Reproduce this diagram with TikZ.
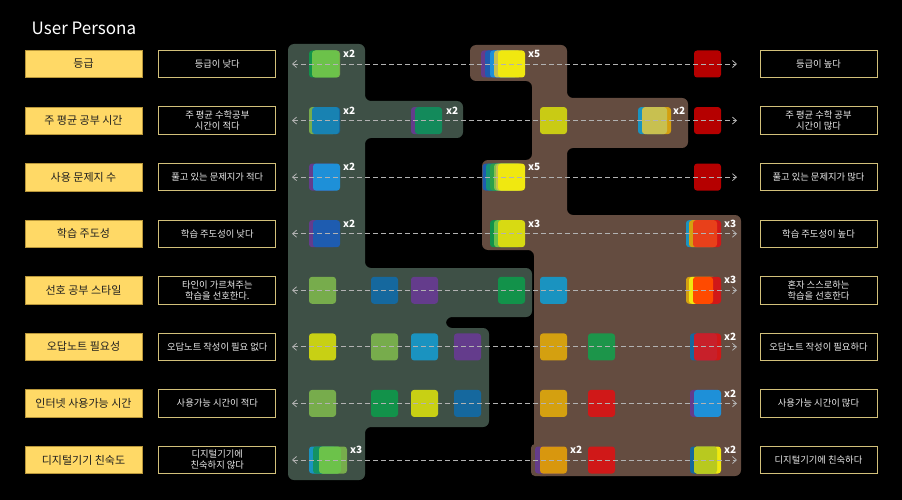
\documentclass[tikz,border=0pt]{standalone}
\usepackage{fontspec}
\setmainfont{Noto Sans CJK KR}
\usetikzlibrary{arrows.meta}
\definecolor{bgG}{HTML}{3E5046}
\definecolor{bgB}{HTML}{644C40}
\definecolor{kyel}{HTML}{FFD966}
\definecolor{kyelb}{HTML}{B8963A}
\definecolor{dbord}{HTML}{D2C07A}
\definecolor{dgreen}{HTML}{12924A}
\definecolor{olive}{HTML}{77AC4C}
\definecolor{lgreen}{HTML}{6CC24A}
\definecolor{sblue}{HTML}{15689E}
\definecolor{purp}{HTML}{643C8C}
\definecolor{teal}{HTML}{1A93C0}
\definecolor{cyanb}{HTML}{1E90D8}
\definecolor{dblue}{HTML}{1E5CB0}
\definecolor{ygreen}{HTML}{C8D014}
\definecolor{ochre}{HTML}{D4A010}
\definecolor{redd}{HTML}{D01818}
\definecolor{dred}{HTML}{B50000}
\definecolor{yell}{HTML}{F0E810}
\definecolor{crim}{HTML}{C8202A}
\definecolor{orng}{HTML}{FF4A00}
\definecolor{orred}{HTML}{E8401A}
\definecolor{khaki}{HTML}{C8C050}
\newcommand\psq[4][27]{\fill[fill=#4,rounded corners=3pt] ({#2},{#3-13.5}) rectangle ({#2+#1},{#3+13.5});}
\begin{document}
\begin{tikzpicture}[x=1pt,y=-1pt,
  ybox/.style={fill=kyel,draw=kyelb,line width=0.6pt,minimum width=117pt,minimum height=27.5pt,inner sep=0pt,text=black!88,font=\fontsize{11}{13}\selectfont},
  dbox/.style={fill=black,draw=dbord,line width=0.9pt,minimum width=117pt,minimum height=27.5pt,inner sep=0pt,text=white!92!black,align=center,font=\fontsize{9.3}{11}\selectfont},
  cnt/.style={anchor=west,text=white,inner sep=0pt,font=\bfseries\fontsize{10}{11}\selectfont},
  darr/.style={draw=white!70!black,line width=0.8pt,dash pattern=on 5pt off 3pt,{Straight Barb[length=4pt,width=7pt]}-{Straight Barb[length=4pt,width=7pt]}}]
\fill[black] (0,0) rectangle (902,500);
\node[anchor=west,text=white,inner sep=0pt,font=\fontsize{17}{20}\selectfont] (title) at (31.5,28.5) {User Persona};
% regions
\fill[bgG,rounded corners=6pt] (288,44) -- (365,44) -- (365,101) -- (463,101) -- (463,138) -- (365,138) -- (365,268) -- (532,268) -- (532,317) -- (446,317) -- (446,328) -- (489,328) -- (489,427) -- (365,427) -- (365,480) -- (288,480) -- cycle;
\fill[bgB,rounded corners=6pt] (470,45) -- (567,45) -- (567,98) -- (688,98) -- (688,148) -- (567,148) -- (567,215) -- (741,215) -- (741,476) -- (534,476) -- (534,250) -- (482,250) -- (482,160) -- (532,160) -- (532,81) -- (470,81) -- cycle;
\fill[bgB,rounded corners=4pt] (531,444) rectangle (550,476);
% labels left
\foreach \t [count=\i] in {등급,주 평균 공부 시간,사용 문제지 수,학습 주도성,선호 공부 스타일,오답노트 필요성,인터넷 사용가능 시간,디지털기기 친숙도}{
  \node[ybox] (k\i) at (83.5,{64+56.57*(\i-1)}) {\t};
}
\node[dbox] (a1) at (217.3,64) {등급이 낮다};
\node[dbox] (a2) at (217.3,120.6) {주 평균 수학공부\\시간이 적다};
\node[dbox] (a3) at (217.3,177.1) {풀고 있는 문제지가 적다};
\node[dbox] (a4) at (217.3,233.7) {학습 주도성이 낮다};
\node[dbox] (a5) at (217.3,290.3) {타인이 가르쳐주는\\학습을 선호한다.};
\node[dbox] (a6) at (217.3,346.9) {오답노트 작성이 필요 없다};
\node[dbox] (a7) at (217.3,403.4) {사용가능 시간이 적다};
\node[dbox] (a8) at (217.3,460) {디지털기기에\\친숙하지 않다};
\node[dbox] (b1) at (818.5,64) {등급이 높다};
\node[dbox] (b2) at (818.5,120.6) {주 평균 수학 공부\\시간이 많다};
\node[dbox] (b3) at (818.5,177.1) {풀고 있는 문제지가 많다};
\node[dbox] (b4) at (818.5,233.7) {학습 주도성이 높다};
\node[dbox] (b5) at (818.5,290.3) {혼자 스스로하는\\학습을 선호한다};
\node[dbox] (b6) at (818.5,346.9) {오답노트 작성이 필요하다};
\node[dbox] (b7) at (818.5,403.4) {사용가능 시간이 많다};
\node[dbox] (b8) at (818.5,460) {디지털기기에 친숙하다};
% row 1
\psq{309}{64}{dgreen}\psq{313}{64}{olive}\psq{312}{64}{lgreen}
\psq{481}{64}{purp}\psq{485}{64}{dblue}\psq{490}{64}{cyanb}\psq{494}{64}{khaki}\psq{498}{64}{yell}
\psq{694}{64}{dred}
% row 2
\psq{309}{120.6}{olive}\psq{313}{120.6}{sblue}\psq{312}{120.6}{teal!60!sblue}
\psq{411}{120.6}{purp}\psq{415}{120.6}{dgreen!80!sblue}
\psq{540}{120.6}{ygreen!90!ochre}
\psq{638}{120.6}{teal}\psq{644}{120.6}{ochre}\psq[25]{642}{120.6}{khaki}
\psq{694}{120.6}{dred}
% row 3
\psq{309}{177.1}{purp}\psq{313}{177.1}{cyanb}
\psq{482.7}{177.1}{dblue}\psq{486}{177.1}{teal!40!dgreen}\psq{490}{177.1}{dgreen!70!lgreen}\psq{494}{177.1}{lgreen!70!khaki}\psq{496}{177.1}{khaki}\psq{498}{177.1}{yell}
\psq{694}{177.1}{dred}
% row 4
\psq{309}{233.7}{purp}\psq{313}{233.7}{dblue}
\psq{490}{233.7}{dgreen}\psq{494}{233.7}{lgreen}\psq{498}{233.7}{ygreen!60!yell}
\psq{686}{233.7}{teal}\psq{689}{233.7}{ochre}\psq{694}{233.7}{redd}\psq[24]{693}{233.7}{orred}
% row 5
\psq{309}{290.3}{olive}\psq{371}{290.3}{sblue}\psq{411}{290.3}{purp}\psq{498}{290.3}{dgreen}\psq{540}{290.3}{teal}
\psq{686}{290.3}{ochre}\psq{689}{290.3}{yell}\psq{694}{290.3}{redd}\psq[20]{693}{290.3}{orng}
% row 6
\psq{309}{346.9}{ygreen}\psq{371}{346.9}{olive}\psq{411}{346.9}{teal}\psq{454}{346.9}{purp}\psq{540}{346.9}{ochre}\psq{588}{346.9}{dgreen!90!olive}
\psq{690}{346.9}{sblue}\psq{694}{346.9}{redd}\psq[23]{694}{346.9}{crim}
% row 7
\psq{309}{403.4}{olive}\psq{371}{403.4}{dgreen}\psq{411}{403.4}{ygreen}\psq{454}{403.4}{sblue}\psq{540}{403.4}{ochre}\psq{588}{403.4}{redd}
\psq{690}{403.4}{purp}\psq{694}{403.4}{cyanb}
% row 8
\psq{309}{460}{teal}\psq{313}{460}{dgreen!80!teal}\psq{320}{460}{olive}\psq[22]{319}{460}{lgreen}
\psq{535}{460}{purp}\psq{540}{460}{ochre!90!orng}
\psq{588}{460}{redd}
\psq{690}{460}{sblue}\psq{694}{460}{yell}\psq[23]{694}{460}{ygreen!80!olive}
% dashed arrows
\foreach \i in {1,...,8}{
  \coordinate (L\i) at (292,{64+56.57*(\i-1)});
  \coordinate (R\i) at (737,{64+56.57*(\i-1)});
  \draw[darr] (L\i) -- (R\i);
}
% counts
\node[cnt] (c1a) at (343,54) {x2};
\node[cnt] (c1b) at (528,54) {x5};
\node[cnt] (c2a) at (343,110.6) {x2};
\node[cnt] (c2b) at (446,110.6) {x2};
\node[cnt] (c2c) at (673,110.6) {x2};
\node[cnt] (c3a) at (343,167.1) {x2};
\node[cnt] (c3b) at (528,167.1) {x5};
\node[cnt] (c4a) at (343,223.7) {x2};
\node[cnt] (c4b) at (528,223.7) {x3};
\node[cnt] (c4c) at (724,223.7) {x3};
\node[cnt] (c5c) at (724,280.3) {x3};
\node[cnt] (c6c) at (724,336.9) {x2};
\node[cnt] (c7c) at (724,393.4) {x2};
\node[cnt] (c8a) at (350,450) {x3};
\node[cnt] (c8b) at (570,450) {x2};
\node[cnt] (c8c) at (724,450) {x2};
\end{tikzpicture}
\end{document}
